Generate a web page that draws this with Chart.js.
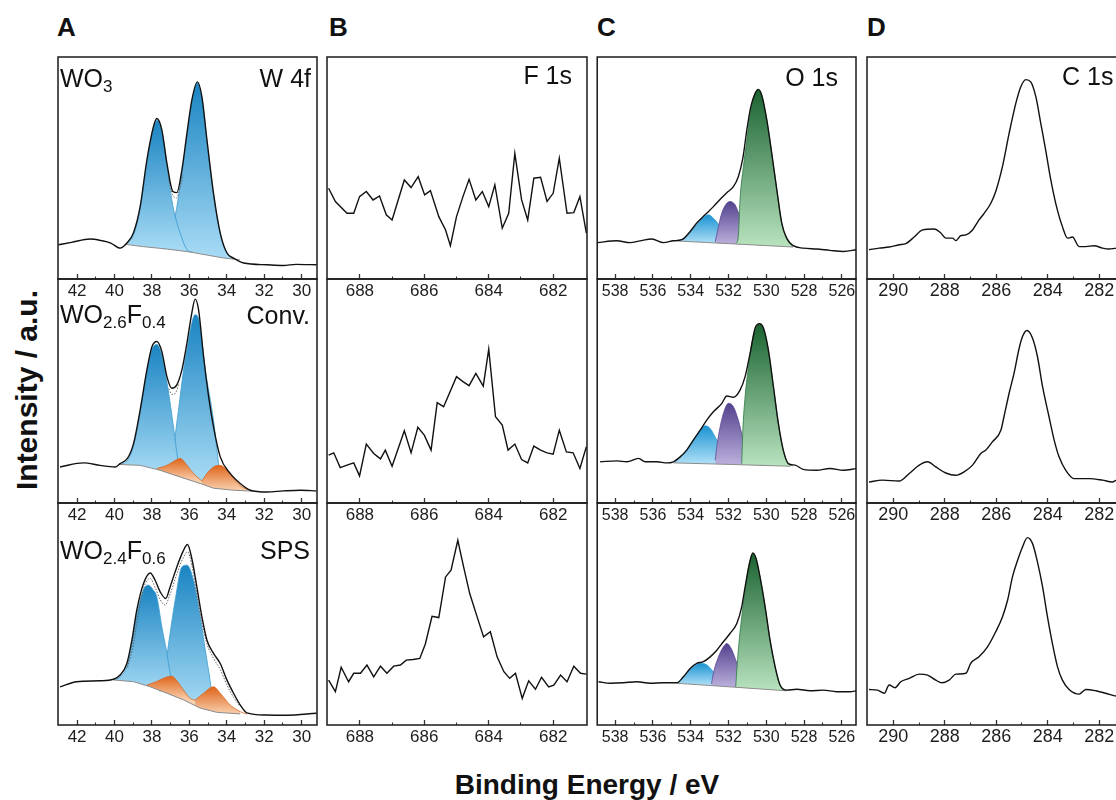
<!DOCTYPE html>
<html>
<head>
<meta charset="utf-8">
<script src="https://cdn.jsdelivr.net/npm/chart.js@4.4.1/dist/chart.umd.min.js"></script>
<style>
  html, body { margin: 0; padding: 0; }
  body { width: 1116px; height: 800px; overflow: hidden; position: relative; background: #fff;
         font-family: "Liberation Sans", Arial, sans-serif; color: #111; }
  canvas { position: absolute; }
  .lbl { position: absolute; font-size: 25px; line-height: 25px; white-space: nowrap; z-index: 5; }
  .lbl sub { font-size: 17px; vertical-align: -5px; line-height: 0; }
  .letter { position: absolute; font-size: 26px; line-height: 26px; font-weight: bold; z-index: 5; }
  .title { position: absolute; font-size: 28px; line-height: 28px; font-weight: bold; white-space: nowrap; z-index: 5; }
</style>
</head>
<body>
<div class="letter" style="left:57px;top:14px">A</div>
<div class="letter" style="left:329px;top:14px">B</div>
<div class="letter" style="left:597px;top:14px">C</div>
<div class="letter" style="left:867px;top:14px">D</div>

<div class="lbl" style="left:60px;top:66px">WO<sub>3</sub></div>
<div class="lbl" style="right:805px;top:66px">W 4f</div>
<div class="lbl" style="left:60px;top:302px">WO<sub>2.6</sub>F<sub>0.4</sub></div>
<div class="lbl" style="right:806px;top:303px">Conv.</div>
<div class="lbl" style="left:60px;top:538px">WO<sub>2.4</sub>F<sub>0.6</sub></div>
<div class="lbl" style="right:806px;top:538px">SPS</div>
<div class="lbl" style="right:544px;top:63px">F 1s</div>
<div class="lbl" style="right:278px;top:65px">O 1s</div>
<div class="lbl" style="left:1062px;top:64px">C 1s</div>

<div class="title" style="left:-123px;top:375px;width:300px;text-align:center;font-size:30px;line-height:30px;transform:rotate(-90deg)">Intensity / a.u.</div>
<div class="title" style="left:287px;top:771px;width:600px;text-align:center">Binding Energy / eV</div>

<script>
// tick labels per column
const ticksW4f = [42, 40, 38, 36, 34, 32, 30];
const ticksF1s = [688, 686, 684, 682];
const ticksO1s = [538, 536, 534, 532, 530, 528, 526];
const ticksC1s = [290, 288, 286, 284, 282];

// W 4f - WO3  [binding energy, intensity %]
const wo3Data = [[43.0,15.4],[42.3,16.5],[41.3,18.0],[40.7,17.3],[40.2,16.2],[39.7,13.9],[39.34,16.2],[38.99,20.7],[38.63,32.6],[38.27,53.6],[37.92,68.6],[37.74,72.3],[37.47,67.1],[37.2,52.1],[36.88,39.4],[36.67,38.9],[36.4,49.1],[36.13,65.6],[35.87,80.5],[35.57,88.8],[35.33,82.0],[35.06,62.6],[34.71,38.6],[34.35,20.7],[33.99,11.7],[33.64,9.4],[33.1,7.2],[31.86,6.4],[30.97,6.1],[30.3,6.6],[29.2,6.4]];
const wo3Bg = [[39.4,15.6],[38.5,14.6],[37.2,13.5],[36.0,12.2],[35.0,10.7],[34.2,9.5],[33.6,8.9],[33.3,8.6]];
const wo3Fit = [[37.1,45],[36.9,38],[36.7,36.5],[36.5,41],[36.35,47]];
const wo3Peak1 = [[39.4,15.6],[39.0,19.5],[38.63,31.5],[38.27,52.5],[37.92,67.8],[37.72,71.5],[37.47,66.3],[37.2,51.5],[36.94,35.6],[36.72,27],[36.49,20.7],[36.13,13.2],[35.8,12]];
const wo3Peak2 = [[37.4,13.6],[37.2,13.9],[36.94,20.7],[36.76,28.1],[36.61,35.6],[36.4,47.5],[36.13,64.5],[35.87,79.8],[35.57,88.3],[35.33,81.5],[35.06,62],[34.71,38],[34.35,20.3],[33.99,11.5],[33.6,9.0]];

// W 4f - WO2.6F0.4
const wo26Data = [[42.91,16.1],[41.66,17.9],[40.77,16.8],[39.97,16.1],[39.7,17.6],[39.3,20],[38.98,26.6],[38.63,41.5],[38.27,59.4],[38.0,69.8],[37.74,72.1],[37.47,67.6],[37.2,56.4],[36.94,51.2],[36.67,52.7],[36.4,59.4],[36.13,71.4],[35.87,84.8],[35.69,91.0],[35.51,86.3],[35.24,65.4],[34.97,47.4],[34.71,34.0],[34.35,20.6],[33.82,13.2],[33.28,8.7],[32.75,5.7],[31.86,4.9],[30.97,5.4],[30.07,5.7],[29.2,5.4]];
const wo26Bg = [[39.75,17.2],[38.63,16.8],[37.56,14.6],[36.49,11.6],[35.42,8.7],[34.71,6.6],[33.64,5.7],[32.6,5.3]];
const wo26Fit = [[37.1,51],[36.94,48.5],[36.75,49],[36.55,53.5]];
const wo26Peak1 = [[39.75,17.2],[39.3,19],[38.98,25.5],[38.63,40.5],[38.27,58.5],[38.0,68.5],[37.74,70.8],[37.47,66],[37.2,54],[37.0,43],[36.85,34],[36.58,17.6],[36.4,13.2],[36.2,11.8]];
const wo26Peak2 = [[37.1,14],[37.0,14.6],[36.85,20.6],[36.76,29.5],[36.58,41.5],[36.31,59.4],[36.1,70],[35.87,80.3],[35.7,84],[35.5,82],[35.15,59.4],[34.71,37.0],[34.44,17.6],[34.26,8.7]];
const wo26Sub1 = [[37.74,15.4],[37.2,16.8],[36.67,19.4],[36.49,19.9],[36.13,16.9],[35.78,13.2],[35.33,9.8]];
const wo26Sub2 = [[35.33,9.8],[35.06,13.2],[34.71,16.1],[34.35,16.8],[34.08,15.4],[33.64,10.9],[33.19,7.2],[32.75,5.7]];

// W 4f - WO2.4F0.6
const wo24Data = [[42.91,17.2],[42.02,19.5],[40.77,19.9],[40.05,20.6],[39.7,22.5],[39.34,27.7],[39.07,38.2],[38.81,51.7],[38.45,63.7],[38.09,68.5],[37.83,65.2],[37.56,60.0],[37.26,57.0],[37.03,62.2],[36.67,71.2],[36.35,78.0],[36.1,81.3],[35.87,75.0],[35.6,62.2],[35.33,48.7],[35.06,38.2],[34.71,32.3],[34.35,27.7],[33.99,20.2],[33.64,14.3],[33.28,9.0],[32.93,5.5],[31.86,4.5],[30.79,4.4],[29.2,5.3]];
const wo24Bg = [[40.05,20.3],[38.98,19.5],[38.09,17.2],[37.2,14.3],[36.31,11.3],[35.42,7.6],[34.53,5.7],[33.28,5.0]];
const wo24Fit = [[39.3,26],[39.0,36],[38.75,49],[38.45,61.5],[38.1,66],[37.83,62],[37.56,56.5],[37.3,54],[37.03,59],[36.67,68],[36.35,75],[36.1,78],[35.87,72],[35.6,59],[35.33,46],[35.06,36.5],[34.71,30],[34.35,25],[33.99,18],[33.64,12.5],[33.3,8.5]];
const wo24Peak1 = [[40.0,20.3],[39.7,21.8],[39.34,26.2],[39.07,36.5],[38.81,49.5],[38.45,61],[38.18,63],[37.95,61],[37.74,57.7],[37.47,44.2],[37.2,32.3],[37.03,23.3],[36.85,16.5],[36.6,13]];
const wo24Peak2 = [[37.6,15.2],[37.47,16],[37.3,21.7],[37.2,30.7],[37.03,41.2],[36.76,56.2],[36.4,71.2],[36.13,72],[35.78,65.2],[35.42,48.7],[35.15,33.7],[34.88,19.2],[34.79,12.7],[34.6,7]];
const wo24Sub1 = [[38.27,18.0],[37.74,19.6],[37.38,21.1],[36.94,22.0],[36.67,19.9],[36.31,15.7],[35.96,12.0],[35.69,11.2]];
const wo24Sub2 = [[35.69,11.2],[35.24,14.3],[34.71,17.2],[34.35,14.3],[33.82,9.0],[33.28,6.0],[32.93,4.9]];

// F 1s
const fWO3 = [[688.97,40.9],[688.76,34.9],[688.40,29.6],[688.19,29.6],[688.01,37.1],[687.80,39.4],[687.59,35.6],[687.39,37.4],[687.18,28.9],[687.00,26.6],[686.62,44.6],[686.41,41.2],[686.19,46.1],[685.99,37.9],[685.81,39.8],[685.55,28.1],[685.34,22.1],[685.19,15.0],[685.00,28.1],[684.80,37.1],[684.61,44.9],[684.40,35.6],[684.20,39.4],[684.00,32.6],[683.81,42.4],[683.58,22.9],[683.38,29.6],[683.19,56.6],[682.98,35.6],[682.79,26.6],[682.60,45.4],[682.39,45.8],[682.19,34.9],[682.00,38.6],[681.81,54.4],[681.57,29.6],[681.36,29.9],[681.17,37.1],[680.97,20.7]];
const fWO26 = [[688.97,21.4],[688.81,22.4],[688.61,15.8],[688.40,16.9],[688.19,17.9],[688.01,12.1],[687.80,26.3],[687.57,22.1],[687.36,19.7],[687.21,23.6],[687.00,16.4],[686.62,32.2],[686.41,22.4],[686.20,33.8],[686.00,30.3],[685.79,23.6],[685.60,44.8],[685.40,43.0],[685.00,56.4],[684.80,54.2],[684.61,52.4],[684.40,57.9],[684.17,52.2],[684.00,68.7],[683.79,38.5],[683.58,34.8],[683.40,23.6],[683.19,26.3],[682.98,19.4],[682.79,17.9],[682.60,25.4],[682.39,23.6],[682.19,22.4],[682.00,21.8],[681.81,32.5],[681.59,22.8],[681.38,22.4],[681.17,15.4],[680.97,25.1]];
const fWO24 = [[688.97,20.2],[688.76,15.0],[688.58,26.0],[688.35,19.5],[688.19,23.3],[687.98,23.3],[687.78,27.0],[687.57,21.7],[687.36,26.5],[687.16,23.3],[686.95,26.5],[686.74,27.0],[686.56,29.2],[686.35,29.5],[686.14,30.0],[685.97,36.4],[685.76,49.0],[685.55,48.4],[685.34,66.7],[685.17,69.7],[684.96,83.2],[684.78,71.2],[684.59,59.2],[684.36,48.7],[684.16,39.7],[683.95,42.0],[683.74,30.7],[683.53,24.0],[683.35,21.0],[683.17,23.3],[682.96,12.0],[682.76,19.9],[682.55,16.1],[682.36,21.5],[682.14,17.2],[681.98,18.0],[681.77,22.5],[681.57,19.5],[681.36,26.5],[681.15,23.3],[680.97,22.9]];

// O 1s
const oWO3 = [[538.94,16.4],[537.91,17.2],[537.21,16.4],[536.68,17.2],[536.06,18.0],[535.44,16.4],[534.92,17.2],[534.47,17.7],[534.03,21.4],[533.68,25.2],[533.24,28.9],[532.80,32.6],[532.44,35.9],[532.09,38.9],[531.74,41.6],[531.48,46.1],[531.24,54.4],[531.03,67.1],[530.82,77.5],[530.59,83.6],[530.42,85.4],[530.24,82.8],[529.97,71.6],[529.71,56.6],[529.44,40.1],[529.18,25.2],[528.92,18.4],[528.57,15.0],[528.04,13.9],[527.33,13.5],[526.63,12.9],[525.92,12.4],[525.21,13.2]];
const oWO3Bg = [[534.92,17.2],[531.7,15.8],[528.57,14.4]];
const oWO3P1 = [[534.92,17.2],[534.38,18.0],[534.03,20.7],[533.68,24.4],[533.33,27.8],[533.06,28.9],[532.80,27.4],[532.44,23.7],[532.09,20.0],[531.74,17.7],[531.39,16.1]];
const oWO3P2 = [[532.7,16.8],[532.53,23.6],[532.36,29.6],[532.09,34.1],[531.92,34.9],[531.65,33.4],[531.39,28.1],[531.03,22.1],[530.68,17.7],[530.33,15.4]];
const oWO3P3 = [[531.6,16.0],[531.48,19.1],[531.39,35.6],[531.21,50.6],[531.03,62.6],[530.85,74.6],[530.59,83.6],[530.42,85.2],[530.24,82.6],[529.97,71.4],[529.71,56.4],[529.44,40],[529.18,25],[528.92,18.2],[528.6,14.5]];

const oWO26 = [[538.79,18.4],[537.91,18.8],[537.38,18.4],[536.76,19.9],[536.41,18.4],[535.79,18.4],[535.26,17.9],[534.92,18.4],[534.56,20.6],[534.21,23.6],[533.86,28.1],[533.50,32.5],[533.15,37.0],[532.80,40.7],[532.35,44.5],[532.09,47.8],[531.74,47.2],[531.39,50.4],[531.12,56.4],[530.82,68.4],[530.59,78.1],[530.36,80.0],[530.15,78.1],[529.89,68.4],[529.62,51.9],[529.36,35.5],[529.10,23.6],[528.83,17.6],[528.48,16.9],[528.04,15.0],[527.33,14.6],[526.63,15.4],[525.92,14.6],[525.21,15.4]];
const oWO26Bg = [[534.92,17.9],[531.8,17.2],[528.74,16.4]];
const oWO26P1 = [[534.83,18.2],[534.38,22.1],[534.03,26],[533.86,28.1],[533.50,32.5],[533.24,34.5],[532.97,33.3],[532.62,28.1],[532.27,22.8],[531.92,19.1],[531.56,17.6]];
const oWO26P2 = [[532.7,19.1],[532.62,25.1],[532.44,34.0],[532.27,40.0],[532.0,44.5],[531.74,43.0],[531.48,37.0],[531.21,28.1],[530.85,20.6],[530.50,17.6],[530.15,16.9]];
const oWO26P3 = [[531.30,17.6],[531.24,32.5],[531.12,47.5],[530.94,60.9],[530.77,71.3],[530.59,77.4],[530.36,79.8],[530.15,77.9],[529.89,68.2],[529.62,51.7],[529.36,35.3],[529.10,23.4],[528.83,17.5],[528.6,16.5]];

const oWO24 = [[538.88,19.5],[538.26,18.8],[537.56,19.0],[536.85,19.5],[536.15,18.8],[535.44,19.0],[534.74,19.0],[534.39,21.7],[534.03,25.5],[533.68,27.8],[533.33,28.5],[532.97,30.7],[532.62,33.7],[532.27,37.5],[531.92,41.2],[531.56,45.7],[531.30,53.2],[531.12,62.2],[530.89,72.7],[530.71,77.5],[530.54,75.0],[530.33,66.7],[530.06,53.2],[529.80,38.2],[529.53,26.2],[529.27,18.0],[528.92,15.7],[528.39,16.1],[527.68,15.4],[526.98,15.7],[526.27,15.0],[525.57,15.0],[525.21,15.4]];
const oWO24Bg = [[534.74,18.8],[531.8,17.1],[528.92,15.4]];
const oWO24P1 = [[534.65,19.3],[534.21,23.3],[533.86,26.2],[533.5,27.8],[533.15,27.1],[532.80,24.0],[532.44,21.0],[532.09,19.0],[531.74,18.0]];
const oWO24P2 = [[532.9,18.5],[532.80,23.3],[532.53,30.7],[532.27,35.2],[532.09,36.7],[531.83,34.0],[531.56,28.0],[531.21,22.0],[530.85,18.3],[530.5,16.8]];
const oWO24P3 = [[531.62,17.2],[531.48,33.7],[531.30,48.7],[531.12,60.7],[530.94,71.2],[530.71,77.2],[530.54,74.8],[530.33,66.5],[530.06,53.0],[529.80,38.0],[529.53,26.0],[529.27,17.8],[528.92,15.5]];

// C 1s
const cWO3 = [[290.94,13.2],[290.55,13.9],[290.16,14.4],[289.77,15.4],[289.51,15.9],[289.19,18.9],[288.86,22.1],[288.41,22.5],[288.15,20.7],[287.96,18.4],[287.70,18.4],[287.57,17.3],[287.38,19.5],[287.18,19.9],[286.92,22.1],[286.67,26.6],[286.47,29.6],[286.21,34.1],[286.02,39.4],[285.76,50.6],[285.50,65.6],[285.24,79.1],[285.05,86.5],[284.85,89.8],[284.66,88.8],[284.46,82.0],[284.27,70.1],[284.08,58.1],[283.88,44.6],[283.69,34.1],[283.43,23.6],[283.23,18.4],[283.04,18.9],[282.78,14.6],[282.52,14.6],[282.20,15.0],[281.87,13.9],[281.62,13.5],[281.32,13.9],[280.95,13.6]];
const cWO26 = [[290.94,9.4],[290.42,10.2],[289.77,9.8],[289.38,13.2],[288.99,16.9],[288.67,18.4],[288.35,16.1],[287.96,13.4],[287.57,12.4],[287.25,13.9],[286.92,16.9],[286.60,22.1],[286.41,23.6],[286.15,27.3],[285.82,32.5],[285.70,38.5],[285.50,49.0],[285.31,57.9],[285.11,69.1],[284.98,74.3],[284.81,77.0],[284.59,73.6],[284.40,65.4],[284.20,51.9],[283.95,38.5],[283.75,28.1],[283.56,20.6],[283.30,14.6],[282.98,10.9],[282.39,10.9],[281.87,10.2],[281.49,9.4],[281.32,10.2],[280.95,10.0]];
const cWO24 = [[290.94,16.0],[290.61,15.7],[290.35,14.3],[290.16,18.0],[289.93,16.8],[289.71,19.5],[289.38,21.0],[288.99,22.9],[288.67,22.5],[288.35,20.2],[288.11,19.0],[287.83,20.2],[287.57,22.9],[287.18,23.3],[286.99,27.8],[286.67,30.7],[286.34,35.2],[286.02,42.0],[285.76,48.7],[285.56,56.2],[285.37,66.7],[285.17,74.2],[284.98,80.2],[284.79,84.4],[284.59,81.7],[284.40,73.5],[284.20,62.2],[284.01,48.7],[283.82,36.8],[283.62,26.2],[283.43,20.2],[283.17,16.0],[282.78,13.9],[282.52,16.0],[282.13,15.4],[281.75,14.3],[281.32,13.0],[280.95,12.8]];

// fill colours: [top, bottom, edge]
const blueFill = ['#1a84c2', '#a9dcf5', '#3b9bd1'];
const orangeFill = ['#de651a', '#f9d0ae', '#d8661f'];
const greenFill = ['#1b6331', '#b8e3be', '#2b7a42'];
const purpleFill = ['#53428e', '#bcb1dd', '#5a4893'];
const cyanFill = ['#1b93d2', '#addff6', '#38a3d8'];

const FONT = '"Liberation Sans", Arial, sans-serif';

// panel geometry (page pixels)
const columns = [
  { left: 58, right: 317, min: 29.18, max: 43.02, labels: ticksW4f, size: 17 },
  { left: 327, right: 587, min: 680.95, max: 689.02, labels: ticksF1s, size: 17 },
  { left: 597, right: 856, min: 525.25, max: 538.95, labels: ticksO1s, size: 16 },
  { left: 867, right: 1126, min: 280.96, max: 291.02, labels: ticksC1s, size: 18 }
];
const rows = [ { top: 57, bottom: 279 }, { top: 279, bottom: 503 }, { top: 503, bottom: 725 } ];
const PAD = 3, STRIP = 28;

function gradientFill(top, bottom) {
  return function(c) {
    const chart = c.chart;
    if (!chart.chartArea) return bottom;
    const ys = chart.data.datasets[c.datasetIndex].data.map(function(p) { return p[1]; });
    const y = chart.scales.y;
    const g = chart.ctx.createLinearGradient(0, y.getPixelForValue(Math.max.apply(null, ys)), 0, y.getPixelForValue(Math.min.apply(null, ys)));
    g.addColorStop(0, top);
    g.addColorStop(1, bottom);
    return g;
  };
}

function trace(data, smooth) {
  return { data: data, borderColor: '#111', borderWidth: 1.4, pointRadius: 0, fill: false,
           cubicInterpolationMode: smooth ? 'monotone' : 'default', tension: 0 };
}
function fitLine(data) {
  return { data: data, borderColor: '#666', borderWidth: 1, borderDash: [1.5, 1.5], pointRadius: 0, fill: false,
           cubicInterpolationMode: 'monotone' };
}
function baseLine(data) {
  return { data: data, borderColor: '#8c8c8c', borderWidth: 1, pointRadius: 0, fill: false };
}
function peak(data, pal, target) {
  return { data: data, borderColor: pal[2], borderWidth: 0.8, pointRadius: 0, fill: target,
           backgroundColor: gradientFill(pal[0], pal[1]), cubicInterpolationMode: 'monotone' };
}

// dataset index 0 is drawn on top
const panels = [
  { col: 0, row: 0, sets: [trace(wo3Data, true), fitLine(wo3Fit), baseLine(wo3Bg), peak(wo3Peak1, blueFill, 2), peak(wo3Peak2, blueFill, 2)] },
  { col: 0, row: 1, sets: [trace(wo26Data, true), fitLine(wo26Fit), baseLine(wo26Bg), peak(wo26Sub2, orangeFill, 2), peak(wo26Sub1, orangeFill, 2), peak(wo26Peak1, blueFill, 2), peak(wo26Peak2, blueFill, 2)] },
  { col: 0, row: 2, sets: [trace(wo24Data, true), fitLine(wo24Fit), baseLine(wo24Bg), peak(wo24Sub2, orangeFill, 2), peak(wo24Sub1, orangeFill, 2), peak(wo24Peak1, blueFill, 2), peak(wo24Peak2, blueFill, 2)] },
  { col: 1, row: 0, sets: [trace(fWO3, false)] },
  { col: 1, row: 1, sets: [trace(fWO26, false)] },
  { col: 1, row: 2, sets: [trace(fWO24, false)] },
  { col: 2, row: 0, sets: [trace(oWO3, true), baseLine(oWO3Bg), peak(oWO3P3, greenFill, 1), peak(oWO3P2, purpleFill, 1), peak(oWO3P1, cyanFill, 1)] },
  { col: 2, row: 1, sets: [trace(oWO26, true), baseLine(oWO26Bg), peak(oWO26P3, greenFill, 1), peak(oWO26P2, purpleFill, 1), peak(oWO26P1, cyanFill, 1)] },
  { col: 2, row: 2, sets: [trace(oWO24, true), baseLine(oWO24Bg), peak(oWO24P3, greenFill, 1), peak(oWO24P2, purpleFill, 1), peak(oWO24P1, cyanFill, 1)] },
  { col: 3, row: 0, sets: [trace(cWO3, true)] },
  { col: 3, row: 1, sets: [trace(cWO26, true)] },
  { col: 3, row: 2, sets: [trace(cWO24, true)] }
];

const framePlugin = {
  id: 'frame',
  afterDraw: function(chart) {
    const a = chart.chartArea, ctx = chart.ctx;
    ctx.save();
    ctx.strokeStyle = '#1a1a1a';
    ctx.lineWidth = 1.5;
    ctx.strokeRect(a.left, a.top, a.right - a.left, a.bottom - a.top);
    ctx.restore();
  }
};

panels.forEach(function(p) {
  const col = columns[p.col], row = rows[p.row];
  const majors = col.labels;
  const marks = majors.slice();
  for (let i = 0; i < majors.length - 1; i++) marks.push((majors[i] + majors[i + 1]) / 2);
  const isMajor = function(v) { return majors.indexOf(v) >= 0; };

  const canvas = document.createElement('canvas');
  canvas.width = col.right - col.left + 2 * PAD;
  canvas.height = row.bottom - row.top + PAD + STRIP;
  canvas.style.left = (col.left - PAD) + 'px';
  canvas.style.top = (row.top - PAD) + 'px';
  document.body.appendChild(canvas);

  new Chart(canvas, {
    type: 'line',
    data: { datasets: p.sets },
    options: {
      responsive: false,
      animation: false,
      events: [],
      layout: { padding: { left: PAD, right: PAD, top: PAD, bottom: 0 } },
      plugins: { legend: { display: false }, tooltip: { enabled: false } },
      scales: {
        x: {
          type: 'linear', min: col.min, max: col.max, reverse: true,
          afterBuildTicks: function(s) { s.ticks = marks.map(function(v) { return { value: v }; }); },
          afterFit: function(s) { s.height = STRIP; },
          border: { display: false },
          grid: {
            drawOnChartArea: false, drawTicks: true, tickLength: -5, tickColor: '#333',
            tickWidth: function(c) { return isMajor(c.tick.value) ? 1.3 : 1.1; },
            tickBorderDash: function(c) { return isMajor(c.tick.value) ? [] : [2.5, 40]; }
          },
          ticks: {
            autoSkip: false, maxRotation: 0, minRotation: 0,
            padding: 12.2 + 5 - 0.6 * col.size,
            color: '#1e1e1e', font: { family: FONT, size: col.size },
            callback: function(v) { return isMajor(v) ? String(v) : ''; }
          }
        },
        y: { display: false, min: 0, max: 100 }
      }
    },
    plugins: [framePlugin]
  });
});
</script>
</body>
</html>
